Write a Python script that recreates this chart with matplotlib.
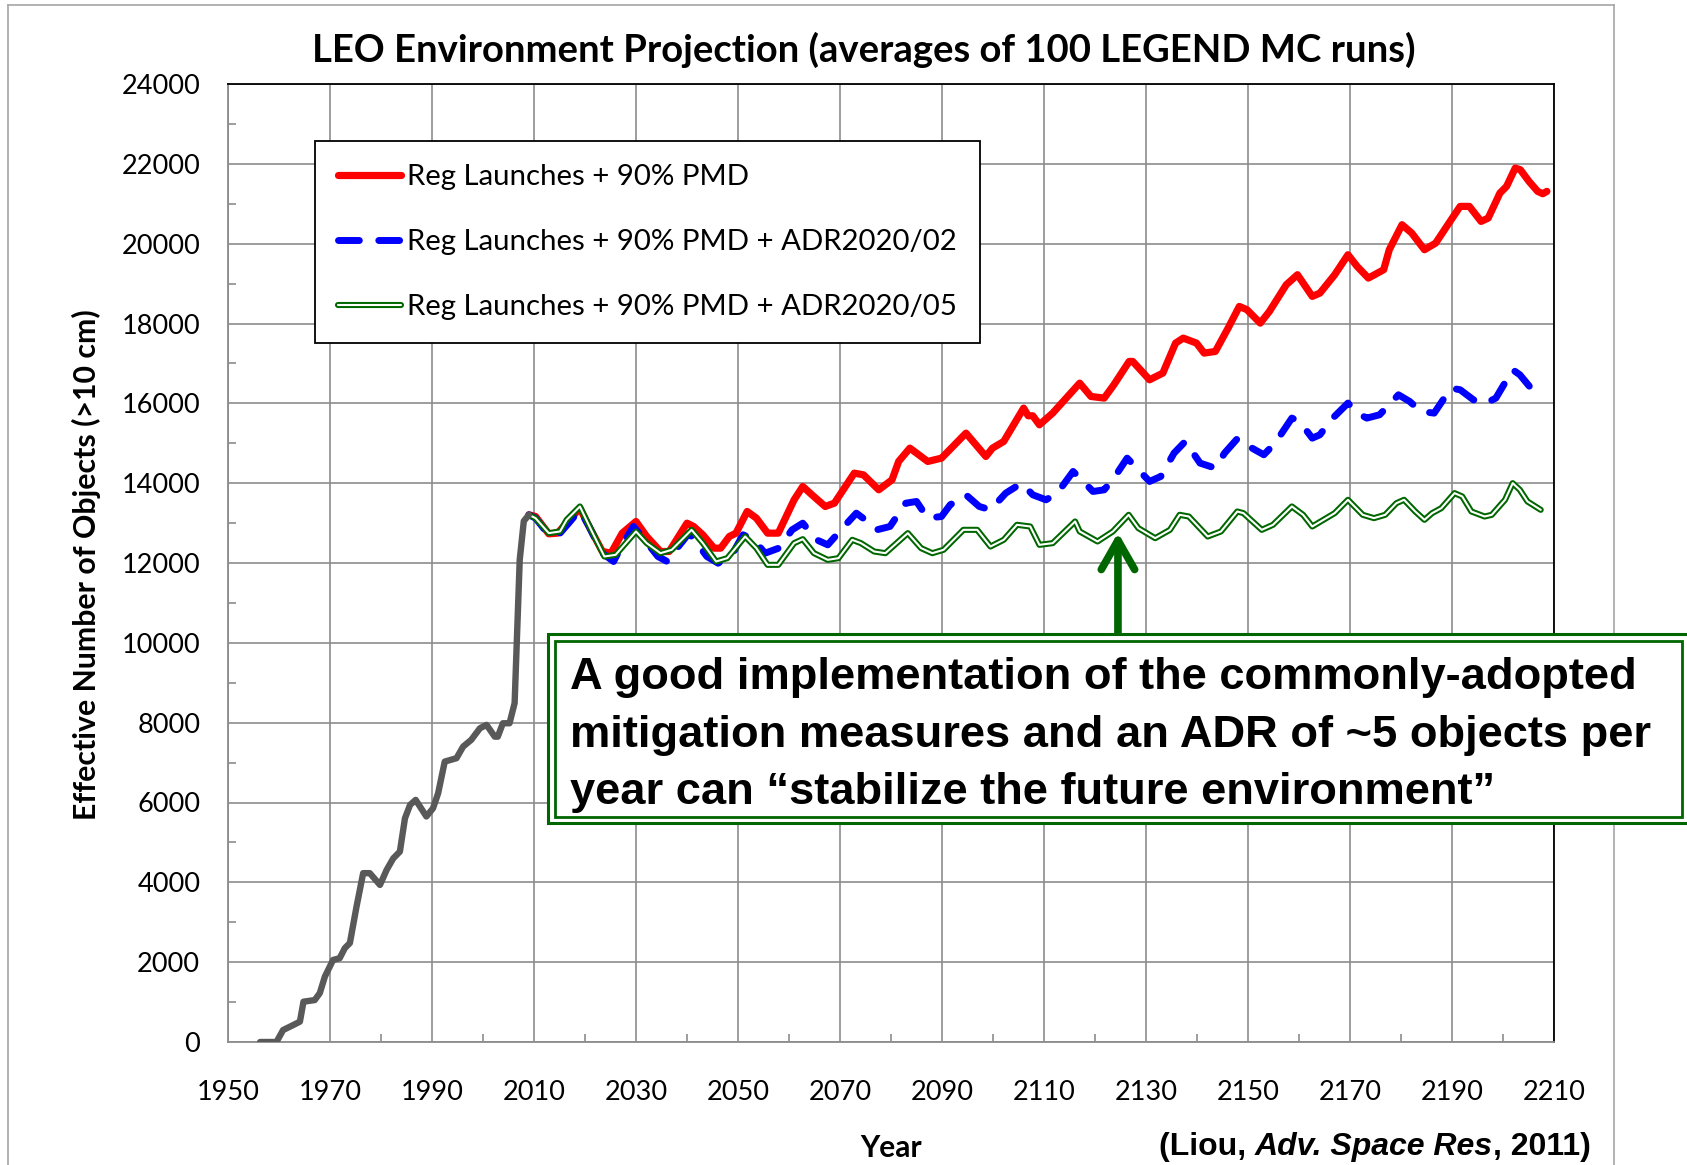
import matplotlib.pyplot as plt
from matplotlib.lines import Line2D
from matplotlib.patches import Rectangle
from matplotlib.legend_handler import HandlerTuple
import matplotlib.ticker as mticker

# historical environment (shared by all scenarios)
hist_years = [1956.3, 1959.5, 1960.8, 1962.8, 1964.1, 1964.8, 1967.0, 1968.0, 1969.0, 1970.6,
              1971.9, 1972.9, 1973.9, 1975.2, 1976.5, 1977.8, 1979.8, 1981.1, 1982.4, 1983.7,
              1984.7, 1985.7, 1986.8, 1988.9, 1990.2, 1991.2, 1992.5, 1994.8, 1996.1, 1997.7,
              1999.4, 2000.7, 2002.3, 2002.9, 2003.9, 2005.2, 2006.2, 2006.5, 2007.2, 2008.0, 2009.0]
hist_vals = [0, 0, 300, 425, 510, 1010, 1050, 1225, 1640, 2055,
             2100, 2350, 2480, 3390, 4230, 4230, 3935, 4310, 4600, 4770,
             5605, 5940, 6065, 5650, 5855, 6230, 7025, 7110, 7400, 7570,
             7860, 7945, 7650, 7650, 7985, 7985, 8490, 9570, 12080, 13050, 13207]

# Reg Launches + 90% PMD
red_years = [2009.0, 2010.3, 2012.9, 2014.6, 2016.4, 2019.0, 2020.8, 2023.4, 2025.1, 2027.3,
             2030.0, 2032.1, 2034.8, 2036.5, 2040.0, 2041.3, 2043.1, 2045.3, 2046.6, 2048.3,
             2049.6, 2051.8, 2053.6, 2055.8, 2057.9, 2061.0, 2062.7, 2064.5, 2067.1, 2068.9,
             2072.8, 2074.6, 2077.6, 2080.2, 2081.5, 2083.7, 2087.2, 2089.9, 2094.7, 2098.6,
             2099.9, 2102.1, 2106.0, 2106.9, 2107.8, 2109.1, 2111.7, 2117.0, 2119.2, 2121.8,
             2123.7, 2126.7, 2127.4, 2130.7, 2133.3, 2135.8, 2137.3, 2139.9, 2141.4, 2143.6,
             2146.1, 2148.3, 2149.8, 2152.4, 2154.2, 2157.5, 2159.7, 2162.6, 2164.1, 2167.0,
             2169.6, 2171.4, 2173.6, 2176.6, 2177.7, 2180.2, 2182.1, 2184.6, 2186.8, 2189.4,
             2191.6, 2193.4, 2195.7, 2197.1, 2199.4, 2200.7, 2202.4, 2203.4, 2205.1, 2206.8,
             2207.8, 2208.6]
red_vals = [13207, 13165, 12731, 12748, 12998, 13374, 12915, 12288, 12246, 12748,
            13040, 12664, 12288, 12288, 12998, 12915, 12706, 12372, 12372, 12664,
            12748, 13291, 13124, 12748, 12748, 13583, 13917, 13708, 13416, 13499,
            14251, 14209, 13834, 14084, 14544, 14878, 14544, 14627, 15253, 14669,
            14878, 15045, 15880, 15688, 15688, 15462, 15755, 16506, 16172, 16131,
            16465, 17050, 17050, 16590, 16757, 17509, 17634, 17509, 17259, 17300,
            17885, 18428, 18345, 18010, 18303, 18971, 19222, 18679, 18762, 19222,
            19723, 19430, 19138, 19347, 19848, 20475, 20266, 19848, 20015, 20516,
            20934, 20934, 20558, 20641, 21268, 21435, 21894, 21852, 21560, 21310,
            21251, 21310]

# Reg Launches + 90% PMD + ADR2020/02
blue_years = [2009.0, 2010.3, 2012.9, 2015.1, 2016.8, 2019.0, 2020.8, 2023.4, 2025.6, 2027.3,
              2029.5, 2031.7, 2034.3, 2036.1, 2037.8, 2040.4, 2042.2, 2043.9, 2046.1, 2048.8,
              2051.0, 2053.1, 2055.3, 2058.0, 2060.6, 2062.7, 2065.4, 2067.6, 2071.1, 2073.2,
              2075.4, 2077.2, 2079.8, 2082.9, 2085.0, 2087.2, 2089.9, 2091.6, 2094.7, 2097.3,
              2099.5, 2102.5, 2105.6, 2107.8, 2110.4, 2112.6, 2115.7, 2117.4, 2119.6, 2121.8,
              2123.7, 2126.3, 2128.5, 2130.7, 2132.9, 2135.5, 2137.7, 2140.6, 2143.6, 2145.4,
              2148.0, 2150.2, 2153.1, 2155.3, 2158.6, 2160.1, 2162.6, 2164.1, 2166.3, 2169.6,
              2171.4, 2173.3, 2175.8, 2179.5, 2181.7, 2183.9, 2186.5, 2189.8, 2191.6, 2194.2,
              2196.4, 2198.6, 2201.9, 2203.3, 2205.2, 2207.4]
blue_vals = [13207, 13124, 12706, 12748, 12998, 13332, 12915, 12246, 12038, 12455,
             12915, 12581, 12163, 12038, 12330, 12748, 12455, 12163, 11996, 12205,
             12706, 12581, 12246, 12372, 12831, 12998, 12581, 12455, 12957, 13249,
             13040, 12831, 12915, 13499, 13541, 13124, 13165, 13457, 13708, 13416,
             13332, 13750, 14000, 13708, 13583, 13750, 14293, 14084, 13792, 13833,
             14126, 14627, 14335, 14043, 14168, 14753, 15045, 14502, 14377, 14753,
             15128, 14920, 14711, 15003, 15630, 15546, 15128, 15212, 15588, 16006,
             15755, 15630, 15713, 16214, 16047, 15797, 15755, 16381, 16340, 16089,
             15989, 16131, 16841, 16716, 16423, 16549]

# Reg Launches + 90% PMD + ADR2020/05
green_years = [2009.0, 2010.3, 2012.9, 2015.1, 2016.4, 2019.0, 2021.2, 2023.8, 2026.0, 2030.0,
               2032.1, 2034.8, 2037.0, 2040.9, 2043.1, 2045.7, 2047.9, 2051.4, 2053.6, 2055.8,
               2057.9, 2061.0, 2062.7, 2064.9, 2067.6, 2069.7, 2072.4, 2074.1, 2076.7, 2078.9,
               2083.3, 2085.9, 2088.1, 2090.3, 2094.2, 2096.9, 2099.5, 2102.1, 2104.7, 2107.3,
               2109.1, 2111.7, 2116.1, 2117.0, 2120.5, 2123.5, 2126.6, 2128.5, 2131.8, 2134.7,
               2136.6, 2138.4, 2142.1, 2144.7, 2147.9, 2149.1, 2152.7, 2154.9, 2158.6, 2160.8,
               2162.6, 2167.0, 2169.6, 2172.5, 2174.7, 2176.9, 2179.1, 2180.6, 2182.8, 2184.6,
               2186.1, 2187.9, 2190.5, 2192.0, 2193.8, 2196.4, 2197.8, 2200.4, 2201.9, 2203.3,
               2204.8, 2207.4]
green_vals = [13207, 13124, 12748, 12790, 13082, 13416, 12831, 12163, 12205, 12790,
              12497, 12246, 12330, 12831, 12497, 12038, 12121, 12664, 12372, 11954,
              11954, 12497, 12597, 12246, 12079, 12121, 12581, 12497, 12288, 12246,
              12748, 12372, 12246, 12330, 12831, 12831, 12413, 12581, 12957, 12915,
              12455, 12497, 13040, 12790, 12539, 12790, 13207, 12873, 12622, 12831,
              13207, 13165, 12664, 12790, 13290, 13249, 12831, 12957, 13416, 13207,
              12915, 13249, 13583, 13207, 13124, 13207, 13499, 13583, 13290, 13082,
              13249, 13374, 13750, 13667, 13290, 13165, 13207, 13583, 14000, 13834,
              13541, 13332]

labels = ['Reg Launches + 90% PMD',
          'Reg Launches + 90% PMD + ADR2020/02',
          'Reg Launches + 90% PMD + ADR2020/05']
year_ticks = list(range(1950, 2211, 20))
note_lines = ['A good implementation of the commonly-adopted',
              'mitigation measures and an ADR of ~5 objects per',
              'year can \u201cstabilize the future environment\u201d']

W, H = 1687, 1165
GREEN = '#006600'
UI_FONT = ['Lato', 'DejaVu Sans']
BLUE_DASH = (0, (3.0, 2.8))


def fx(px):
    return px / W


def fy(py):
    return 1 - py / H


fig = plt.figure(figsize=(W / 100, H / 100), dpi=100)
fig.patch.set_facecolor('white')

# chart area border
for xs, ys in [([8, 8], [5, H]), ([8, 1614], [5, 5]), ([1614, 1614], [5, H])]:
    fig.add_artist(Line2D([fx(v) for v in xs], [fy(v) for v in ys], color='#a6a6a6', lw=1.2))

ax = fig.add_axes([fx(228), fy(1042), fx(1554) - fx(228), fy(84) - fy(1042)])

ax.plot(red_years, red_vals, color='#ff0000', lw=5.2, solid_capstyle='round',
        solid_joinstyle='round', zorder=3)
ax.plot(blue_years, blue_vals, color='#0000ff', lw=5.0, linestyle=BLUE_DASH,
        dash_capstyle='round', dash_joinstyle='round', zorder=4)
ax.plot(green_years, green_vals, color=GREEN, lw=4.4, solid_capstyle='round',
        solid_joinstyle='round', zorder=5)
ax.plot(green_years, green_vals, color='white', lw=1.5, solid_capstyle='round',
        solid_joinstyle='round', zorder=6)
ax.plot(hist_years, hist_vals, color='#595959', lw=4.6, solid_capstyle='round',
        solid_joinstyle='round', zorder=7)

ax.set_xlim(1950, 2210)
ax.set_ylim(0, 24000)
ax.xaxis.set_major_locator(mticker.FixedLocator(year_ticks))
ax.xaxis.set_minor_locator(mticker.MultipleLocator(10))
ax.yaxis.set_major_locator(mticker.MultipleLocator(2000))
ax.yaxis.set_minor_locator(mticker.MultipleLocator(1000))
ax.grid(True, which='major', color='#8c8c8c', lw=1.2, zorder=1)
ax.set_axisbelow(True)
ax.tick_params(which='major', length=0, labelsize=19.5, colors='black')
ax.tick_params(axis='x', which='major', pad=27)
ax.tick_params(axis='y', which='major', pad=20)
ax.tick_params(which='minor', direction='in', length=6, width=1.2, color='#8c8c8c')
for lab in ax.get_xticklabels() + ax.get_yticklabels():
    lab.set_family(UI_FONT)
for side in ['left', 'bottom']:
    ax.spines[side].set_color('#8c8c8c')
    ax.spines[side].set_linewidth(1.3)
for side in ['top', 'right']:
    ax.spines[side].set_color('black')
    ax.spines[side].set_linewidth(1.3)

# legend
h_red = Line2D([], [], color='#ff0000', lw=5.2, solid_capstyle='round')
h_blue = Line2D([], [], color='#0000ff', lw=5.0, linestyle=BLUE_DASH, dash_capstyle='round')
h_green = (Line2D([], [], color=GREEN, lw=4.4, solid_capstyle='round'),
           Line2D([], [], color='white', lw=1.5, solid_capstyle='round'))
leg = ax.legend([h_red, h_blue, h_green], labels, loc='upper left',
                bbox_to_anchor=(fx(315), fy(141)), bbox_transform=fig.transFigure,
                borderaxespad=0, frameon=True, fancybox=False, framealpha=1,
                edgecolor='black', prop={'family': UI_FONT, 'size': 21.2},
                handlelength=2.15, handletextpad=0.2, labelspacing=1.33, borderpad=0.78,
                handler_map={tuple: HandlerTuple(ndivide=1, pad=0)})
leg.get_frame().set_linewidth(1.3)
leg.set_zorder(10)

# title and axis labels
fig.text(fx(864), fy(50), 'LEO Environment Projection (averages of 100 LEGEND MC runs)',
         ha='center', va='center', fontsize=27.5, fontweight='bold', family=UI_FONT)
fig.text(fx(86), fy(565), 'Effective Number of Objects (>10 cm)', rotation=90,
         ha='center', va='center', fontsize=21.8, fontweight='bold', family=UI_FONT)
fig.text(fx(891), fy(1148), 'Year', ha='center', va='center', fontsize=21.5,
         fontweight='bold', family=UI_FONT)

# citation, built from pieces so the journal name can be italic
c1 = fig.text(fx(1159), fy(1162), '(Liou, ', ha='left', va='bottom', fontsize=23,
              fontweight='bold', family='Liberation Sans')
c2 = ax.annotate('Adv. Space Res', xy=(1, 0), xycoords=c1, ha='left', va='bottom',
                 fontsize=23, fontweight='bold', fontstyle='italic', family='Liberation Sans',
                 annotation_clip=False)
ax.annotate(', 2011)', xy=(1, 0), xycoords=c2, ha='left', va='bottom', fontsize=23,
            fontweight='bold', family='Liberation Sans', annotation_clip=False)

# message box with a double green border
fig.add_artist(Rectangle((fx(548), fy(823)), fx(1700) - fx(548), fy(634) - fy(823),
                         transform=fig.transFigure, facecolor='white', edgecolor=GREEN,
                         lw=2.2, zorder=5))
fig.add_artist(Rectangle((fx(555), fy(817)), fx(1682) - fx(555), fy(641) - fy(817),
                         transform=fig.transFigure, facecolor='none', edgecolor=GREEN,
                         lw=2.0, zorder=6))
fig.text(fx(570), fy(657), '\n'.join(note_lines), ha='left', va='top', fontsize=32.6,
         fontweight='bold', family='Liberation Sans', linespacing=1.52, zorder=7)

# arrow pointing at the stabilised curve
ax.annotate('', xy=(2124.5, 12760), xytext=(2124.5, 10140),
            arrowprops=dict(arrowstyle='->, head_length=21, head_width=12', color=GREEN,
                            lw=5.5, mutation_scale=1, shrinkA=0, shrinkB=0,
                            capstyle='round', joinstyle='round'),
            annotation_clip=False, zorder=8)

fig.savefig('out.png', dpi=100)
